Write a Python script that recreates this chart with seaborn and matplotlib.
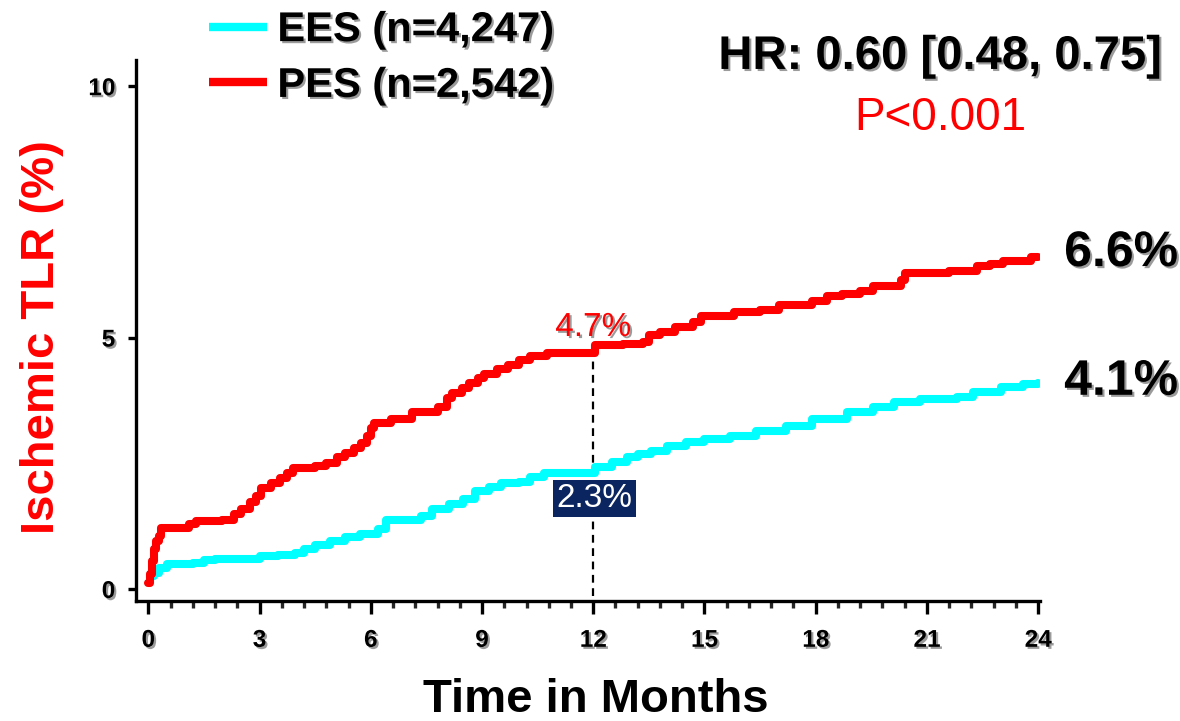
import numpy as np
import pandas as pd
import matplotlib
matplotlib.use("Agg")
import matplotlib.pyplot as plt
import matplotlib.patheffects as pe
from matplotlib.lines import Line2D
from matplotlib.ticker import MultipleLocator
import seaborn as sns

# Kaplan-Meier cumulative incidence of ischemic TLR (%), step points
pes_months = [0.0, 0.05, 0.1, 0.15, 0.2, 0.28, 0.35, 1.1, 1.3, 2.0, 2.3, 2.5, 2.75, 2.9,
              3.05, 3.3, 3.55, 3.75, 3.9, 4.5, 4.8, 5.1, 5.3, 5.55, 5.75, 5.9, 6.0, 6.1,
              6.55, 7.1, 7.8, 8.05, 8.2, 8.45, 8.65, 8.9, 9.05, 9.4, 9.7, 10.0, 10.3,
              10.75, 12.05, 12.8, 13.35, 13.5, 13.8, 14.2, 14.7, 14.9, 15.8, 16.5, 17.0,
              17.9, 18.3, 18.7, 19.2, 19.55, 20.3, 20.4, 21.6, 22.35, 22.7, 23.06, 23.8, 24.0]
pes_tlr = [0.12, 0.3, 0.55, 0.8, 0.95, 1.05, 1.22, 1.3, 1.35, 1.37, 1.5, 1.6, 1.72, 1.85,
           2.0, 2.1, 2.2, 2.3, 2.4, 2.45, 2.5, 2.62, 2.7, 2.8, 2.9, 3.05, 3.2, 3.3,
           3.38, 3.52, 3.62, 3.8, 3.9, 4.0, 4.1, 4.2, 4.28, 4.38, 4.45, 4.55, 4.63,
           4.7, 4.85, 4.88, 4.92, 5.05, 5.12, 5.2, 5.3, 5.43, 5.5, 5.55, 5.65,
           5.72, 5.82, 5.86, 5.92, 6.03, 6.15, 6.28, 6.32, 6.42, 6.46, 6.52, 6.6, 6.6]

ees_months = [0.05, 0.15, 0.3, 0.5, 1.2, 1.5, 1.8, 3.0, 3.5, 3.95, 4.2, 4.5, 4.9, 5.3,
              5.7, 6.2, 6.4, 7.35, 7.65, 8.1, 8.5, 8.8, 9.2, 9.5, 10.0, 10.3, 10.66,
              12.05, 12.5, 12.9, 13.2, 13.55, 14.0, 14.5, 15.0, 15.7, 16.4, 17.2, 17.9,
              18.85, 19.55, 20.1, 20.8, 21.8, 22.25, 23.0, 23.6, 24.0]
ees_tlr = [0.25, 0.32, 0.42, 0.5, 0.52, 0.57, 0.6, 0.65, 0.68, 0.72, 0.8, 0.88, 0.95, 1.04,
           1.1, 1.2, 1.38, 1.45, 1.6, 1.68, 1.78, 1.95, 2.02, 2.1, 2.13, 2.22, 2.3,
           2.42, 2.52, 2.62, 2.68, 2.75, 2.84, 2.92, 2.98, 3.05, 3.15, 3.25, 3.38,
           3.52, 3.62, 3.72, 3.77, 3.82, 3.92, 4.02, 4.08, 4.1]

groups = ["EES", "PES"]
group_labels = ["EES (n=4,247)", "PES (n=2,542)"]
group_colors = ["#00FFFF", "#FF0000"]
landmark_month = 12
landmark_pes = 4.7
landmark_ees = 2.3
final_pes = 6.6
final_ees = 4.1
hr_text = "HR: 0.60 [0.48, 0.75]"
p_text = "P<0.001"

df = pd.concat([
    pd.DataFrame({"month": ees_months, "tlr": ees_tlr, "group": "EES"}),
    pd.DataFrame({"month": pes_months, "tlr": pes_tlr, "group": "PES"}),
], ignore_index=True)

sns.set_theme(style="white")
plt.rcParams["font.family"] = ["Liberation Sans", "DejaVu Sans"]
plt.rcParams["text.color"] = "black"

shadow = [pe.withSimplePatchShadow(offset=(1.5, -1.5), shadow_rgbFace="0.35", alpha=0.6)]

fig = plt.figure(figsize=(11.8, 7.21), dpi=100)
ax = fig.add_axes([0.1153, 0.1664, 0.7661, 0.7504])

sns.lineplot(data=df, x="month", y="tlr", hue="group", hue_order=groups,
             palette=dict(zip(groups, group_colors)), drawstyle="steps-post",
             linewidth=5.8, solid_capstyle="round", estimator=None, legend=False,
             ax=ax, zorder=3)

ax.set_xlim(-0.33, 24.05)
ax.set_ylim(-0.24, 10.52)
ax.xaxis.set_major_locator(MultipleLocator(3))
ax.xaxis.set_minor_locator(MultipleLocator(0.6))
ax.set_yticks([0, 5, 10])

for s in ["top", "right"]:
    ax.spines[s].set_visible(False)
for s in ["left", "bottom"]:
    ax.spines[s].set_linewidth(2.4)
    ax.spines[s].set_color("black")

ax.tick_params(axis="x", which="major", direction="out", length=9, width=2.4,
               bottom=True, pad=11, labelsize=17.5, colors="black")
ax.tick_params(axis="x", which="minor", direction="out", length=5, width=2.4,
               bottom=True)
ax.tick_params(axis="y", which="major", direction="out", length=6, width=2.4,
               left=True, pad=9, labelsize=17.5, colors="black")
for lab in ax.get_xticklabels() + ax.get_yticklabels():
    lab.set_fontweight("bold")
    lab.set_path_effects(shadow)

ax.set_xlabel("Time in Months", fontsize=34, fontweight="bold", color="black")
ax.xaxis.label.set_va("center")
ax.xaxis.set_label_coords(0.509, -0.183)
ax.set_ylabel("Ischemic TLR (%)", fontsize=34, fontweight="bold", color="#FF0000")
ax.yaxis.label.set_va("center")
ax.yaxis.set_label_coords(-0.104, 0.487)

# 12-month landmark
ax.vlines(landmark_month, -0.14, landmark_pes, colors="black", linewidth=1.6,
          linestyles=(0, (3.5, 2.5)), zorder=2)
ax.text(landmark_month, landmark_pes + 0.5, f"{landmark_pes}%", ha="center", va="center",
        fontsize=24, color="#FF0000", path_effects=shadow, zorder=5)
ax.text(landmark_month + 0.03, 1.8, f"{landmark_ees}%", ha="center", va="center",
        fontsize=24, color="white", zorder=5,
        bbox=dict(boxstyle="square,pad=0.1", facecolor="#0B2560", edgecolor="none"))

# 24-month rates
ax.text(24.7, final_pes + 0.08, f"{final_pes}%", ha="left", va="center", fontsize=36,
        fontweight="bold", color="black", path_effects=shadow, clip_on=False)
ax.text(24.7, final_ees + 0.02, f"{final_ees}%", ha="left", va="center", fontsize=36,
        fontweight="bold", color="black", path_effects=shadow, clip_on=False)

# Hazard ratio
fig.text(0.797, 0.921, hr_text, ha="center", va="center", fontsize=34,
         fontweight="bold", color="black", path_effects=shadow)
fig.text(0.797, 0.836, p_text, ha="center", va="center", fontsize=33, color="#FF0000")

handles = [Line2D([0], [0], color=c, linewidth=6, solid_capstyle="butt")
           for c in group_colors]
leg = fig.legend(handles, group_labels, loc="upper left", bbox_to_anchor=(0.145, 1.038),
                 frameon=False, handlelength=1.4, handletextpad=0.25, labelspacing=0.38,
                 prop={"size": 30, "weight": "bold"})
for t in leg.get_texts():
    t.set_color("black")
    t.set_path_effects(shadow)

fig.savefig("out.png", dpi=100)
